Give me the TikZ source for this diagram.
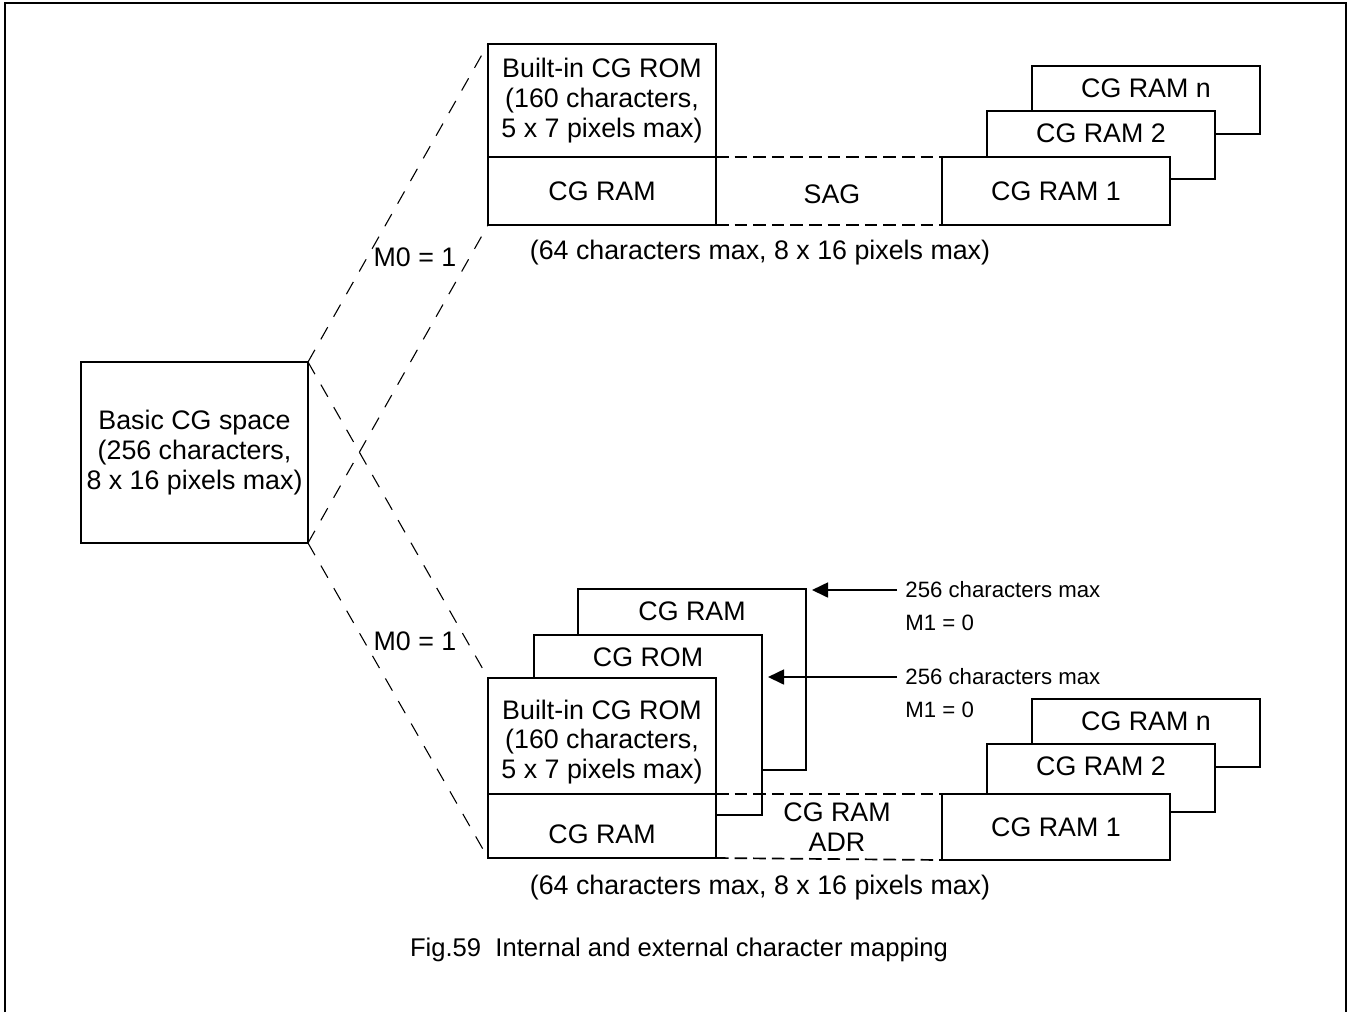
\documentclass[tikz,border=0pt]{standalone}
\usepackage{fontspec}
\setmainfont{Liberation Sans}
\usepackage{tikz}
\usetikzlibrary{positioning,arrows.meta}
\newcommand{\mainsz}{\fontsize{13.4}{14.8}\selectfont}
\newcommand{\smallsz}{\fontsize{11.1}{13}\selectfont}
\newcommand{\capsz}{\fontsize{12.8}{15}\selectfont}
\tikzset{
  cgbox/.style={draw,line width=1pt,fill=white,outer sep=0pt,inner sep=0pt,
            anchor=north west,minimum width=114pt,align=center,font=\mainsz},
  txt/.style={inner sep=0pt,align=center,font=\mainsz},
  smalltxt/.style={inner sep=0pt,anchor=west,font=\smallsz},
  dashline/.style={line width=0.85pt,dash pattern=on 6.3pt off 3pt},
  mapline/.style={line width=0.55pt,dash pattern=on 7pt off 6pt},
  ptr/.style={-{Triangle[length=8pt,width=7.5pt]},line width=0.85pt,
            shorten <=4pt,shorten >=3pt},
  framel/.style={line width=1pt},
}
\begin{document}
\begin{tikzpicture}[x=0.5pt,y=-0.5pt]
  \useasboundingbox (0,0) rectangle (1352,1012);
  \draw[framel] (5,1012) -- (5,3) -- (1346,3) -- (1346,1012);

  \node[cgbox,minimum width=113.5pt,minimum height=90.5pt] (basic) at (81,362)
    {Basic CG space\\(256 characters,\\8 x 16 pixels max)};

  % M0 = 1, upper branch
  \node[cgbox,minimum height=56.5pt] (romA) at (488,44)
    {Built-in CG ROM\\(160 characters,\\5 x 7 pixels max)};
  \node[cgbox,minimum height=34pt] (ramA) at (488,157) {CG RAM};
  \node[cgbox,minimum height=34pt] (cgAn) at (1032,66) {};
  \node[txt] (tAn) at ([yshift=-11pt]cgAn.north) {CG RAM n};
  \node[cgbox,minimum height=34pt] (cgA2) at (987,111) {};
  \node[txt] (tA2) at ([yshift=-11pt]cgA2.north) {CG RAM 2};
  \node[cgbox,minimum height=34pt] (cgA1) at (942,157) {CG RAM 1};
  \draw[dashline] (ramA.north east) -- (cgA1.north west);
  \draw[dashline] (ramA.south east) -- (cgA1.south west);
  \node[txt] (sag) at (832,194) {SAG};
  \node[txt] (capA) at (760,253) {(64 characters max, 8 x 16 pixels max)};

  % M0 = 1, lower branch
  \node[cgbox,minimum height=90.5pt] (backRam) at (578,589) {};
  \node[txt] (tBackRam) at ([yshift=-11pt]backRam.north) {CG RAM};
  \node[cgbox,minimum height=90pt] (backRom) at (534,635) {};
  \node[txt] (tBackRom) at ([yshift=-11pt]backRom.north) {CG ROM};
  \node[cgbox,minimum height=58pt] (romB) at (488,678) {};
  \node[txt] (tRomB) at ([yshift=-3pt]romB.center)
    {Built-in CG ROM\\(160 characters,\\5 x 7 pixels max)};
  \node[cgbox,minimum height=32pt] (ramB) at (488,794) {};
  \node[txt] (tRamB) at ([yshift=-4pt]ramB.center) {CG RAM};
  \node[cgbox,minimum height=34pt] (cgBn) at (1032,699) {};
  \node[txt] (tBn) at ([yshift=-11pt]cgBn.north) {CG RAM n};
  \node[cgbox,minimum height=34pt] (cgB2) at (987,744) {};
  \node[txt] (tB2) at ([yshift=-11pt]cgB2.north) {CG RAM 2};
  \node[cgbox,minimum height=33pt] (cgB1) at (942,794) {CG RAM 1};
  \draw[dashline] (romB.south east) -- (cgB1.north west);
  \draw[dashline] (ramB.south east) -- (cgB1.south west);
  \node[txt] (adr) at (837,827) {CG RAM\\ADR};
  \node[txt] (capB) at (760,888) {(64 characters max, 8 x 16 pixels max)};

  \node[smalltxt] (maxA) at (905,590) {256 characters max};
  \node[smalltxt] (m1A) at (905,623) {M1 = 0};
  \node[smalltxt] (maxB) at (905,677) {256 characters max};
  \node[smalltxt] (m1B) at (905,710) {M1 = 0};
  \draw[ptr] (maxA.west) -- (maxA.west -| backRam.east);
  \draw[ptr] (maxB.west) -- (maxB.west -| backRom.east);

  \draw[mapline] (basic.north east) -- (romA.north west);
  \draw[mapline] (basic.south east) -- (ramA.south west);
  \draw[mapline] (basic.north east) -- (romB.north west);
  \draw[mapline] (basic.south east) -- (ramB.south west);
  \node[txt] (m0A) at (415,257) {M0 = 1};
  \node[txt] (m0B) at (415,641) {M0 = 1};

  \node[txt,font=\capsz] (fig) at (679,950)
    {Fig.59~~Internal and external character mapping};
\end{tikzpicture}
\end{document}
